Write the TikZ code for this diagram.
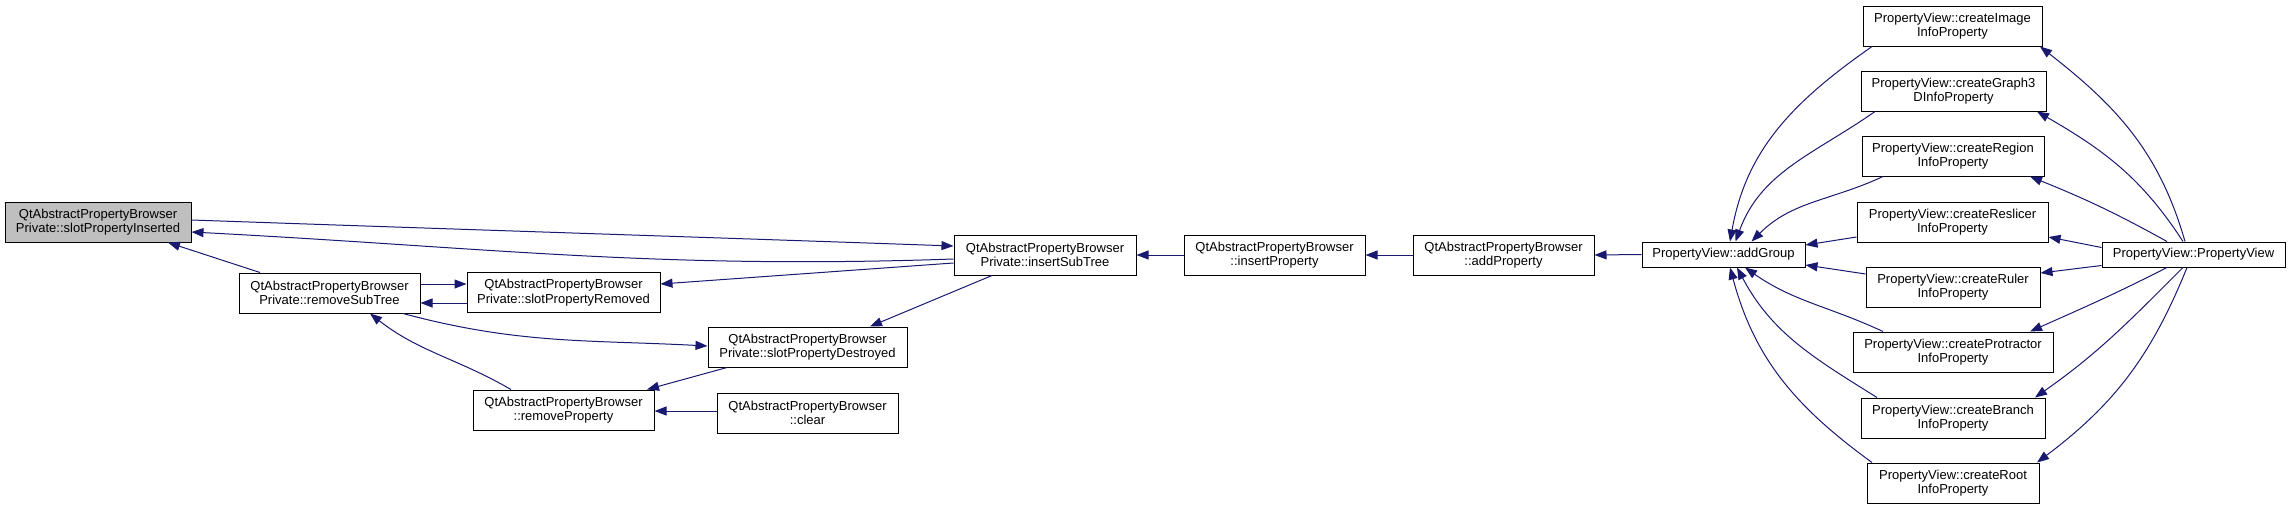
\documentclass[tikz,border=0pt]{standalone}
\usepackage{fontspec}
\setmainfont{Liberation Sans}
\usetikzlibrary{arrows.meta,calc}
\definecolor{mblue}{HTML}{191970}
\definecolor{selgray}{HTML}{BFBFBF}
\begin{document}
\begin{tikzpicture}[x=1pt,y=-1pt,
  box/.style={draw=black, line width=1pt, fill=white, inner sep=0pt, align=center,
    font=\fontsize{13}{14.5}\selectfont, minimum height=40pt},
  sbox/.style={box, minimum height=25pt},
  edge/.style={draw=mblue, line width=1pt, -{Triangle[length=12pt,width=9pt]}}
]
\useasboundingbox (0,0) rectangle (2291,509);
\node[box, fill=selgray, minimum width=186pt] (Ins) at (98,222) {QtAbstractPropertyBrowser\\Private::slotPropertyInserted};
\node[box, minimum width=181pt] (RST) at (329.5,293) {QtAbstractPropertyBrowser\\Private::removeSubTree};
\node[box, minimum width=193pt] (SPR) at (563.5,292.5) {QtAbstractPropertyBrowser\\Private::slotPropertyRemoved};
\node[box, minimum width=199pt] (SPD) at (807.5,347) {QtAbstractPropertyBrowser\\Private::slotPropertyDestroyed};
\node[box, minimum width=181pt] (RP) at (563.5,410) {QtAbstractPropertyBrowser\\::removeProperty};
\node[box, minimum width=181pt] (CLR) at (807.5,413) {QtAbstractPropertyBrowser\\::clear};
\node[box, minimum width=182pt] (IST) at (1045,255) {QtAbstractPropertyBrowser\\Private::insertSubTree};
\node[box, minimum width=181pt] (IP) at (1274.5,255) {QtAbstractPropertyBrowser\\::insertProperty};
\node[box, minimum width=181pt] (AP) at (1503.5,255) {QtAbstractPropertyBrowser\\::addProperty};
\node[sbox, minimum width=163pt] (AG) at (1723.5,254.5) {PropertyView::addGroup};
\node[sbox, minimum width=183pt] (PV) at (2193.5,254.5) {PropertyView::PropertyView};
\node[box, minimum width=179pt] (CI) at (1952.5,26) {PropertyView::createImage\\InfoProperty};
\node[box, minimum width=185pt] (CG) at (1953.5,91) {PropertyView::createGraph3\\DInfoProperty};
\node[box, minimum width=182pt] (CRg) at (1953,156) {PropertyView::createRegion\\InfoProperty};
\node[box, minimum width=191pt] (CRs) at (1952.5,222) {PropertyView::createReslicer\\InfoProperty};
\node[box, minimum width=174pt] (CRu) at (1953,287) {PropertyView::createRuler\\InfoProperty};
\node[box, minimum width=200pt] (CP) at (1953,352) {PropertyView::createProtractor\\InfoProperty};
\node[box, minimum width=184pt] (CB) at (1953,418) {PropertyView::createBranch\\InfoProperty};
\node[box, minimum width=172pt] (CRo) at (1953,483) {PropertyView::createRoot\\InfoProperty};

% left part
\draw[edge] ([yshift=2pt]Ins.east) to[out=-2,in=178] ([yshift=9pt]IST.west);
\draw[edge] ([yshift=-4pt]IST.west) to[out=182,in=-3] ([yshift=-10pt]Ins.east);
\draw[edge] ([yshift=-8pt]IST.west) -- ([yshift=8.5pt]SPR.east);
\draw[edge] ([xshift=-53pt]IST.south) -- ([xshift=62.5pt]SPD.north);
\draw[edge] ([xshift=-69.5pt]RST.north) -- ([xshift=70pt]Ins.south);
\draw[edge] ([yshift=9pt]RST.east) -- ([yshift=8.5pt]SPR.west);
\draw[edge] ([yshift=-10.5pt]SPR.west) -- ([yshift=-10pt]RST.east);
\draw[edge] ([xshift=73.5pt]RST.south) to[out=-15,in=177] ([yshift=1pt]SPD.west);
\draw[edge] ([xshift=-52.5pt]RP.north) to[out=150,in=-38] ([xshift=40.5pt]RST.south);
\draw[edge] ([xshift=-80.5pt]SPD.south) -- ([xshift=83.5pt]RP.north);
\draw[edge] ([yshift=2pt]CLR.west) -- ([yshift=-1pt]RP.east);
\draw[edge] (IP.west) -- (IST.east);
\draw[edge] (AP.west) -- (IP.east);
\draw[edge] (AG.west) -- (AP.east);

% create -> addGroup
\draw[edge] ([xshift=-80.5pt]CI.south) to[out=215,in=80] ([xshift=6.5pt]AG.north);
\draw[edge] ([xshift=-78.5pt]CG.south) to[out=215,in=70] ([xshift=12pt]AG.north);
\draw[edge] ([xshift=-70pt]CRg.south) to[out=205,in=45] ([xshift=28pt]AG.north);
\draw[edge] ([yshift=-15pt]CRs.west) -- ([yshift=9.5pt]AG.east);
\draw[edge] ([yshift=13pt]CRu.west) -- ([yshift=-10.5pt]AG.east);
\draw[edge] ([xshift=-70pt]CP.north) to[out=155,in=-35] ([xshift=21.5pt]AG.south);
\draw[edge] ([xshift=-76pt]CB.north) to[out=148,in=-62] ([xshift=13.5pt]AG.south);
\draw[edge] ([xshift=-81pt]CRo.north) to[out=144,in=-75] ([xshift=6.5pt]AG.south);

% PropertyView -> create
\draw[edge] ([xshift=-8.5pt]PV.north) to[out=106,in=-38] ([xshift=87.5pt]CI.south);
\draw[edge] ([xshift=-10.5pt]PV.north) to[out=123,in=-30] ([xshift=83.5pt]CG.south);
\draw[edge] ([xshift=-26.5pt]PV.north) to[out=151,in=-22] ([xshift=77pt]CRg.south);
\draw[edge] ([yshift=7pt]PV.west) -- ([yshift=-15pt]CRs.east);
\draw[edge] ([yshift=-11pt]PV.west) -- ([yshift=14pt]CRu.east);
\draw[edge] ([xshift=-26.5pt]PV.south) to[out=-153,in=24] ([xshift=77pt]CP.north);
\draw[edge] ([xshift=-10.5pt]PV.south) to[out=-135,in=35] ([xshift=82pt]CB.north);
\draw[edge] ([xshift=-6.5pt]PV.south) to[out=-112,in=37] ([xshift=84pt]CRo.north);
\end{tikzpicture}
\end{document}
